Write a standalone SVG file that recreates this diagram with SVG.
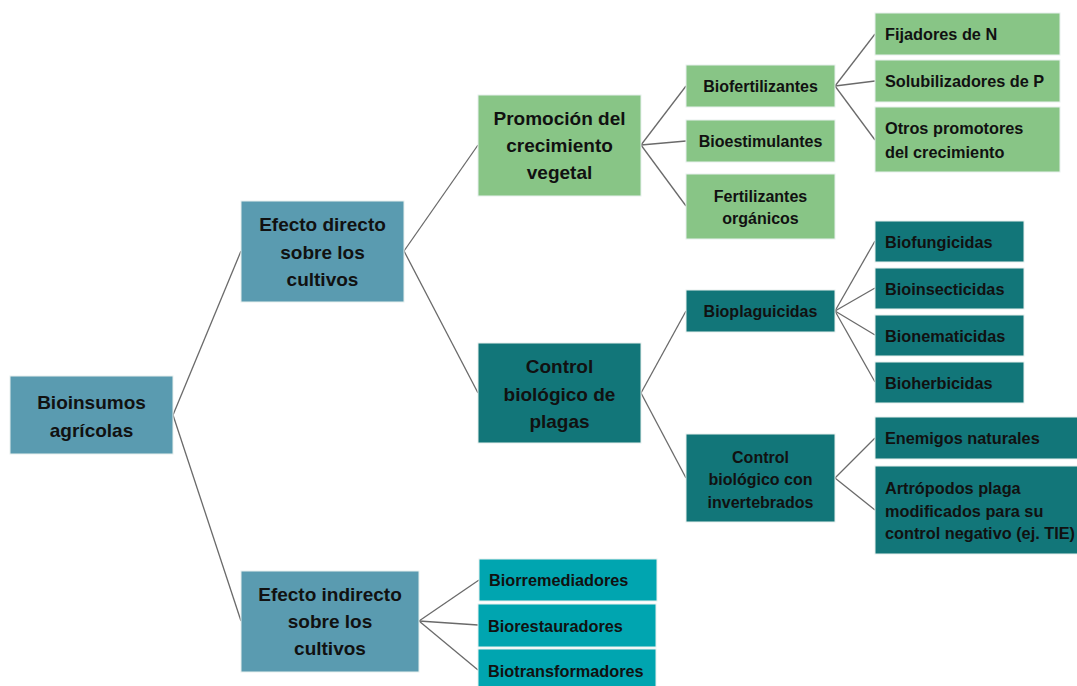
<svg xmlns="http://www.w3.org/2000/svg" width="1077" height="686" viewBox="0 0 1077 686">
<style>
text{font-family:"Liberation Sans",Arial,sans-serif;font-weight:bold;fill:#111;}
.c{text-anchor:middle;}
.l{text-anchor:start;}
.big{font-size:19px;}
.mid{font-size:16px;}
.sm{font-size:16.3px;}
.steel{fill:#5a9bb0;}
.green{fill:#88c586;}
.dark{fill:#127679;}
.cyan{fill:#00a5b0;}
g rect{stroke:#e8f0ee;stroke-width:1;}
#connectors line{stroke:#6a6a6a;stroke-width:1.3;}
</style>
<g id="connectors">
<line x1="173" y1="415" x2="241" y2="251"/>
<line x1="173" y1="415" x2="241" y2="621"/>
<line x1="404" y1="251" x2="478" y2="145"/>
<line x1="404" y1="251" x2="478" y2="393"/>
<line x1="641" y1="145" x2="686" y2="86"/>
<line x1="641" y1="145" x2="686" y2="141"/>
<line x1="641" y1="145" x2="686" y2="206"/>
<line x1="835" y1="86" x2="875" y2="34"/>
<line x1="835" y1="86" x2="875" y2="81"/>
<line x1="835" y1="86" x2="875" y2="140"/>
<line x1="641" y1="393" x2="686" y2="311"/>
<line x1="641" y1="393" x2="686" y2="478"/>
<line x1="835" y1="311" x2="875" y2="241"/>
<line x1="835" y1="311" x2="875" y2="288"/>
<line x1="835" y1="311" x2="875" y2="335"/>
<line x1="835" y1="311" x2="875" y2="382"/>
<line x1="835" y1="478" x2="875" y2="438"/>
<line x1="835" y1="478" x2="875" y2="510"/>
<line x1="419" y1="621" x2="479" y2="580"/>
<line x1="419" y1="621" x2="478" y2="625"/>
<line x1="419" y1="621" x2="478" y2="670"/>
</g>
<g id="root"><rect class="steel" x="10" y="376" width="163" height="78"/>
<text class="c big" x="91.5" y="409">Bioinsumos</text><text class="c big" x="91.5" y="437">agrícolas</text></g>
<g id="directo"><rect class="steel" x="241" y="201" width="163" height="101"/>
<text class="c big" x="322.5" y="231">Efecto directo</text><text class="c big" x="322.5" y="259">sobre los</text><text class="c big" x="322.5" y="286">cultivos</text></g>
<g id="indirecto"><rect class="steel" x="241" y="571" width="178" height="101"/>
<text class="c big" x="330" y="601">Efecto indirecto</text><text class="c big" x="330" y="628">sobre los</text><text class="c big" x="330" y="655">cultivos</text></g>
<g id="promocion"><rect class="green" x="478" y="95" width="163" height="101"/>
<text class="c big" x="559.5" y="125">Promoción del</text><text class="c big" x="559.5" y="152">crecimiento</text><text class="c big" x="559.5" y="179">vegetal</text></g>
<g id="biofertilizantes"><rect class="green" x="686" y="65" width="149" height="42"/>
<text class="c mid" x="760.5" y="92">Biofertilizantes</text></g>
<g id="bioestimulantes"><rect class="green" x="686" y="120" width="149" height="42"/>
<text class="c mid" x="760.5" y="147">Bioestimulantes</text></g>
<g id="fertilizantes"><rect class="green" x="686" y="174" width="149" height="65"/>
<text class="c mid" x="760.5" y="202">Fertilizantes</text><text class="c mid" x="760.5" y="224">orgánicos</text></g>
<g id="fijadores"><rect class="green" x="875" y="13" width="185" height="42"/>
<text class="l sm" x="885" y="40">Fijadores de N</text></g>
<g id="solubilizadores"><rect class="green" x="875" y="60" width="185" height="42"/>
<text class="l sm" x="885" y="87">Solubilizadores de P</text></g>
<g id="otros"><rect class="green" x="875" y="107" width="185" height="65"/>
<text class="l sm" x="885" y="134">Otros promotores</text><text class="l sm" x="885" y="158">del crecimiento</text></g>
<g id="control"><rect class="dark" x="478" y="343" width="163" height="100"/>
<text class="c big" x="559.5" y="373">Control</text><text class="c big" x="559.5" y="401">biológico de</text><text class="c big" x="559.5" y="428">plagas</text></g>
<g id="bioplaguicidas"><rect class="dark" x="686" y="290" width="149" height="42"/>
<text class="c mid" x="760.5" y="317">Bioplaguicidas</text></g>
<g id="invertebrados"><rect class="dark" x="686" y="434" width="149" height="88"/>
<text class="c mid" x="760.5" y="463">Control</text><text class="c mid" x="760.5" y="485">biológico con</text><text class="c mid" x="760.5" y="508">invertebrados</text></g>
<g id="biofungicidas"><rect class="dark" x="875" y="221" width="149" height="41"/>
<text class="l sm" x="885" y="248">Biofungicidas</text></g>
<g id="bioinsecticidas"><rect class="dark" x="875" y="268" width="149" height="41"/>
<text class="l sm" x="885" y="295">Bioinsecticidas</text></g>
<g id="bionematicidas"><rect class="dark" x="875" y="315" width="149" height="41"/>
<text class="l sm" x="885" y="342">Bionematicidas</text></g>
<g id="bioherbicidas"><rect class="dark" x="875" y="362" width="149" height="41"/>
<text class="l sm" x="885" y="389">Bioherbicidas</text></g>
<g id="enemigos"><rect class="dark" x="875" y="417" width="203" height="42"/>
<text class="l sm" x="885" y="444">Enemigos naturales</text></g>
<g id="artropodos"><rect class="dark" x="875" y="466" width="203" height="88"/>
<text class="l sm" x="885" y="494">Artrópodos plaga</text><text class="l sm" x="885" y="517">modificados para su</text><text class="l sm" x="885" y="539">control negativo (ej. TIE)</text></g>
<g id="biorremediadores"><rect class="cyan" x="479" y="559" width="178" height="42"/>
<text class="l sm" x="489" y="586">Biorremediadores</text></g>
<g id="biorestauradores"><rect class="cyan" x="478" y="604" width="178" height="43"/>
<text class="l sm" x="488" y="632">Biorestauradores</text></g>
<g id="biotransformadores"><rect class="cyan" x="478" y="649" width="178" height="40"/>
<text class="l sm" x="488" y="677">Biotransformadores</text></g>
</svg>
